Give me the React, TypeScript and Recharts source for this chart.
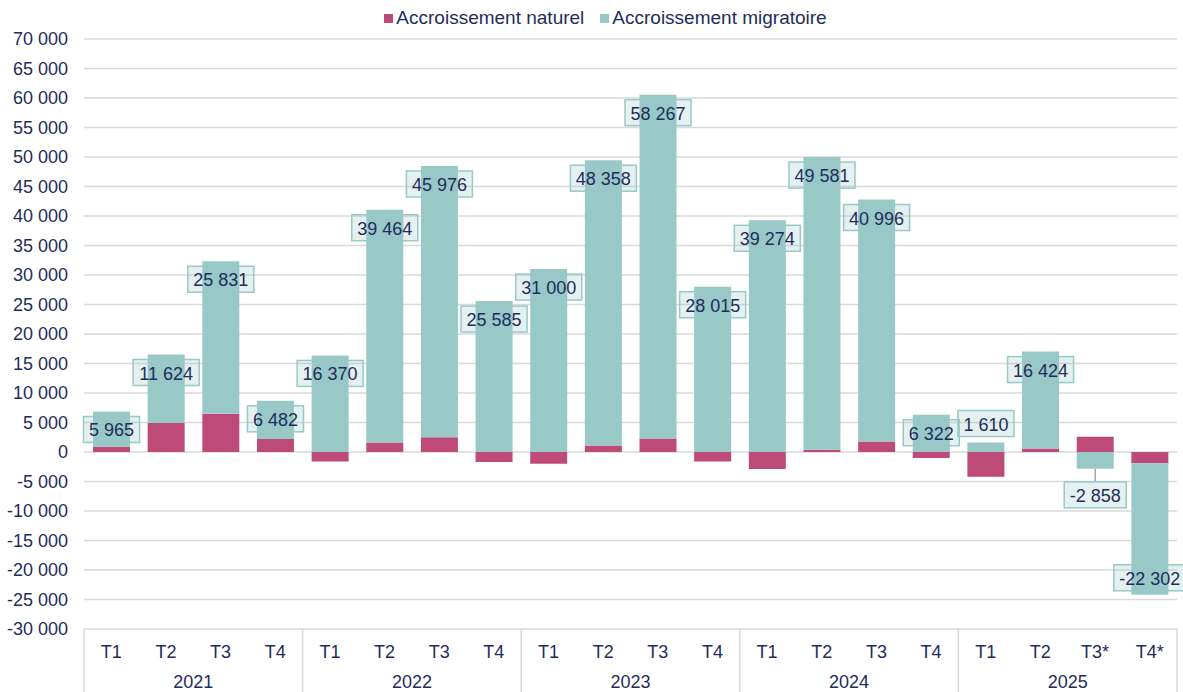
import { Bar, BarChart, CartesianGrid, LabelList, Legend, XAxis, YAxis } from "recharts";

const quarters = [
  "T1", "T2", "T3", "T4",
  "T1", "T2", "T3", "T4",
  "T1", "T2", "T3", "T4",
  "T1", "T2", "T3", "T4",
  "T1", "T2", "T3*", "T4*",
];
const years = [
  "2021", "2021", "2021", "2021",
  "2022", "2022", "2022", "2022",
  "2023", "2023", "2023", "2023",
  "2024", "2024", "2024", "2024",
  "2025", "2025", "2025", "2025",
];
const naturel = [
  900, 4900, 6500, 2200,
  -1600, 1600, 2500, -1700,
  -2000, 1100, 2300, -1600,
  -2900, 400, 1800, -1000,
  -4200, 600, 2600, -1900,
];
const migratoire = [
  5965, 11624, 25831, 6482,
  16370, 39464, 45976, 25585,
  31000, 48358, 58267, 28015,
  39274, 49581, 40996, 6322,
  1610, 16424, -2858, -22302,
];
const yTicks = [
  -30000, -25000, -20000, -15000, -10000, -5000, 0, 5000, 10000, 15000,
  20000, 25000, 30000, 35000, 40000, 45000, 50000, 55000, 60000, 65000, 70000,
];

const NAVY = "#1f2d5c";
const PINK = "#bd4a77";
const TEAL = "#99c9c7";
const GRID = "#d9d9d9";
const FONT = "'Liberation Sans', Arial, sans-serif";

const rows = quarters.map((q, i) => ({
  key: `${years[i]}-${q}`,
  q,
  nat: naturel[i],
  mig: migratoire[i],
}));

function fmt(v: number) {
  const s = String(Math.abs(Math.round(v))).replace(/\B(?=(\d{3})+(?!\d))/g, " ");
  return v < 0 ? `-${s}` : s;
}

// rough width of 18px Arial text
function textWidth(s: string) {
  let w = 0;
  for (const c of s) w += c === " " ? 5 : c === "-" ? 6 : 10;
  return w;
}

function QuarterTick(props: any) {
  const { x, y, payload } = props;
  const i = payload?.index ?? props.index ?? 0;
  const half = payload?.offset || 27.3;
  return (
    <g>
      <text x={x} y={y + 23} textAnchor="middle" dominantBaseline="central" fontSize={18} fill={NAVY}>
        {payload.value}
      </text>
      {i % 4 === 0 && <line x1={x - half} x2={x - half} y1={y} y2={y + 63} stroke={GRID} strokeWidth={1.5} />}
      {i === quarters.length - 1 && (
        <line x1={x + half} x2={x + half} y1={y} y2={y + 63} stroke={GRID} strokeWidth={1.5} />
      )}
      {i % 4 === 1 && (
        <text x={x + half} y={y + 53} textAnchor="middle" dominantBaseline="central" fontSize={18} fill={NAVY}>
          {years[i]}
        </text>
      )}
    </g>
  );
}

function MigLabel(props: any) {
  const vb = props.viewBox ?? {};
  const x = props.x ?? vb.x;
  const y = props.y ?? vb.y;
  const width = props.width ?? vb.width;
  const height = props.height ?? vb.height;
  let v = props.value;
  if (Array.isArray(v)) v = v[1] - v[0];
  if (v == null || x == null) return null;
  v = Number(v);
  const top = Math.min(y, y + height);
  const bottom = Math.max(y, y + height);
  const h = bottom - top;
  const cx = x + width / 2;
  const bh = 26;
  let cy: number;
  let leader = null;
  if (v >= 0) {
    cy = h >= 30 ? top + 18 : top - 19;
  } else if (h >= 30) {
    cy = bottom - 17;
  } else {
    cy = bottom + 26;
    leader = <line x1={cx} x2={cx} y1={bottom} y2={cy - bh / 2} stroke="#a6a6a6" strokeWidth={1.5} />;
  }
  const text = fmt(v);
  const bw = textWidth(text) + 11;
  return (
    <g>
      {leader}
      <rect
        x={cx - bw / 2}
        y={cy - bh / 2}
        width={bw}
        height={bh}
        fill={TEAL}
        fillOpacity={0.25}
        stroke={TEAL}
        strokeWidth={1.5}
      />
      <text x={cx} y={cy + 1} textAnchor="middle" dominantBaseline="central" fontSize={18} fill={NAVY}>
        {text}
      </text>
    </g>
  );
}

function LegendContent() {
  const items = [
    { name: "Accroissement naturel", color: PINK },
    { name: "Accroissement migratoire", color: TEAL },
  ];
  return (
    <div
      style={{
        display: "flex",
        justifyContent: "center",
        gap: 16,
        paddingLeft: 28,
        fontSize: 19,
        color: NAVY,
        fontFamily: FONT,
        lineHeight: "22px",
      }}
    >
      {items.map((it) => (
        <div key={it.name} style={{ display: "flex", alignItems: "center", gap: 3 }}>
          <span style={{ width: 9, height: 9, background: it.color, display: "inline-block" }} />
          <span>{it.name}</span>
        </div>
      ))}
    </div>
  );
}

export default function App() {
  return (
    <div style={{ position: "absolute", left: 0, top: 0, width: 1183, height: 692, background: "#fff", fontFamily: FONT }}>
      <BarChart
        width={1183}
        height={692}
        data={rows}
        stackOffset="sign"
        barCategoryGap="16.5%"
        margin={{ top: 39, right: 6, bottom: 0, left: 0 }}
      >
        <CartesianGrid vertical={false} stroke={GRID} strokeWidth={1.5} />
        <XAxis
          dataKey="q"
          xAxisId={0}
          interval={0}
          axisLine={false}
          tickLine={false}
          tickSize={0}
          tickMargin={0}
          height={63}
          tick={<QuarterTick />}
        />
        <YAxis
          width={84}
          domain={[-30000, 70000]}
          ticks={yTicks}
          allowDataOverflow
          axisLine={false}
          tickLine={false}
          tickSize={0}
          tickMargin={16}
          tick={{ fill: NAVY, fontSize: 18 }}
          tickFormatter={(v) => fmt(v as number)}
        />
        <Legend
          layout="horizontal"
          verticalAlign="middle"
          align="center"
          wrapperStyle={{ top: 7, left: 0, width: 1183 }}
          content={<LegendContent />}
        />
        <Bar dataKey="nat" name="Accroissement naturel" stackId="a" fill={PINK} isAnimationActive={false} />
        <Bar dataKey="mig" name="Accroissement migratoire" stackId="a" fill={TEAL} isAnimationActive={false}>
          <LabelList dataKey="mig" content={<MigLabel />} />
        </Bar>
      </BarChart>
    </div>
  );
}
